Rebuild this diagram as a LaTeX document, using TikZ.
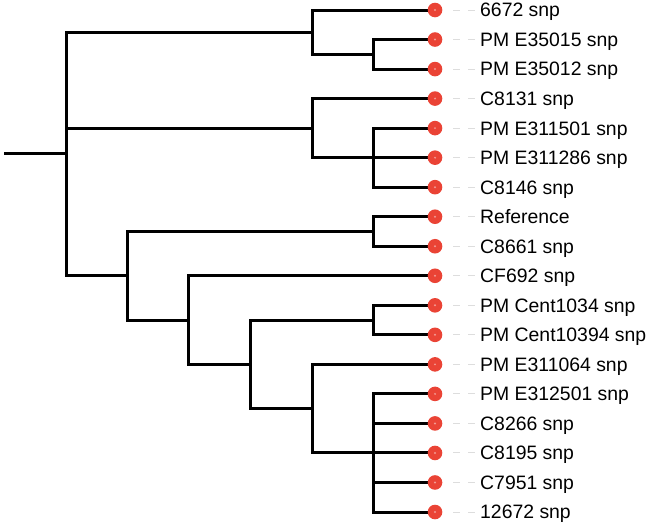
\documentclass[tikz,border=0pt]{standalone}
\usepackage{fontspec}
\setmainfont{Liberation Sans}
\usetikzlibrary{backgrounds}
\definecolor{dotred}{HTML}{EA4335}
\definecolor{dotcore}{HTML}{F29A92}
\definecolor{dashgray}{HTML}{DDDDDD}
\tikzset{
  branch/.style={line width=3pt, line join=miter},
  leaf/.style={circle, fill=dotred, minimum size=14.6pt, inner sep=0pt},
  lbl/.style={anchor=base west, inner sep=0pt, font=\fontsize{19.4}{22}\selectfont},
  leafdash/.style={draw=dashgray, line width=1pt, dash pattern=on 7pt off 8pt}
}
\begin{document}
\begin{tikzpicture}[x=1pt,y=-1pt]
\useasboundingbox (0,0) rectangle (650,528);
% leaves and labels
\foreach \t [count=\i from 0] in {6672 snp,PM E35015 snp,PM E35012 snp,C8131 snp,PM E311501 snp,PM E311286 snp,C8146 snp,Reference,C8661 snp,CF692 snp,PM Cent1034 snp,PM Cent10394 snp,PM E311064 snp,PM E312501 snp,C8266 snp,C8195 snp,C7951 snp,12672 snp}{
  \node[leaf] (l\i) at (435,{10+29.53*\i}) {};
  \fill[dotcore] (l\i.center) circle (1.1pt);
  \node[lbl] (t\i) at (480,{10+29.53*\i+6.9}) {\t};
  \draw[leafdash] ([xshift=10.7pt]l\i.east) -- ++(22,0);
}
% internal nodes
\coordinate (r0) at (4,153.98);
\coordinate (A)  at (66,153.98);
\coordinate (C1) at (312,32.15);
\coordinate (S1) at (373,54.3);
\coordinate (C2) at (312,128.12);
\coordinate (S2) at (373,157.65);
\coordinate (B)  at (127,275.8);
\coordinate (S3) at (373,231.5);
\coordinate (C)  at (188,320.07);
\coordinate (D)  at (250,364.36);
\coordinate (S4) at (373,320.07);
\coordinate (E)  at (312,408.65);
\coordinate (F)  at (373,452.95);
\begin{scope}[on background layer]
\draw[branch] (r0) -- (A);
\draw[branch] (A) |- (C1);
\draw[branch] (A) |- (C2);
\draw[branch] (A) |- (B);
\draw[branch] (C1) |- (l0.center);
\draw[branch] (C1) |- (S1);
\draw[branch] (S1) |- (l1.center);
\draw[branch] (S1) |- (l2.center);
\draw[branch] (C2) |- (l3.center);
\draw[branch] (C2) |- (S2);
\draw[branch] (S2) |- (l4.center);
\draw[branch] (S2) |- (l5.center);
\draw[branch] (S2) |- (l6.center);
\draw[branch] (B) |- (S3);
\draw[branch] (B) |- (C);
\draw[branch] (S3) |- (l7.center);
\draw[branch] (S3) |- (l8.center);
\draw[branch] (C) |- (l9.center);
\draw[branch] (C) |- (D);
\draw[branch] (D) |- (S4);
\draw[branch] (D) |- (E);
\draw[branch] (S4) |- (l10.center);
\draw[branch] (S4) |- (l11.center);
\draw[branch] (E) |- (l12.center);
\draw[branch] (E) |- (F);
\foreach \k in {13,...,17}{
  \draw[branch] (F) |- (l\k.center);
}
\end{scope}
\end{tikzpicture}
\end{document}
